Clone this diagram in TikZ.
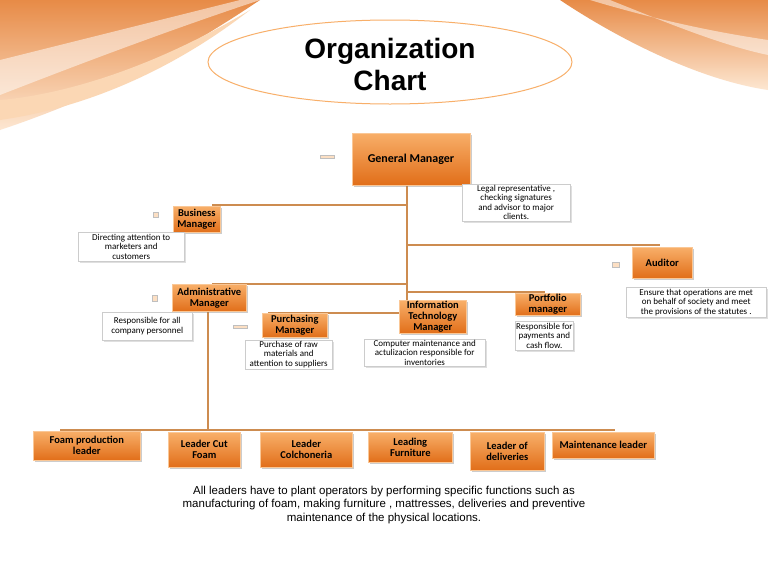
\documentclass[tikz,border=0pt]{standalone}
\usepackage{fontspec}
\setmainfont{Carlito}
\newfontfamily\arial{Liberation Sans}
\usetikzlibrary{shadows}
\definecolor{org}{RGB}{225,110,25}
\definecolor{orgl}{RGB}{248,175,105}
\definecolor{lnc}{RGB}{205,140,80}
\tikzset{
 ob/.style={draw=orgl!70!white,line width=0.6pt,top color=orgl,bottom color=org,drop shadow={opacity=0.4,shadow xshift=1.5pt,shadow yshift=-1.5pt},font=\bfseries\fontsize{10.5}{11}\selectfont,align=center,inner sep=1pt},
 db/.style={draw=gray!40,fill=white,drop shadow={opacity=0.25,shadow xshift=1.5pt,shadow yshift=-1.5pt},font=\fontsize{9}{9.5}\selectfont,align=center,inner sep=1pt},
 ln/.style={draw=lnc,line width=1.6pt},
 dsh/.style={draw=gray!50,fill=orgl!40,line width=0.5pt},
}
\begin{document}
\begin{tikzpicture}[x=1pt,y=-1pt]
\useasboundingbox (0,0) rectangle (768,576);
\fill[white] (0,0) rectangle (768,576);
% background swooshes
\shade[top color=org!80,bottom color=orgl!30] (0,0) -- (260,0) .. controls (200,40) and (120,90) .. (0,130) -- cycle;
\fill[white,opacity=0.5] (0,60) .. controls (80,40) and (160,20) .. (240,0) -- (260,0) .. controls (170,30) and (90,60) .. (0,95) -- cycle;
\fill[orgl!50] (0,100) .. controls (60,95) and (150,70) .. (250,10) .. controls (160,80) and (70,110) .. (0,120) -- cycle;
\shade[top color=org!80,bottom color=orgl!30] (768,0) -- (560,0) .. controls (620,40) and (700,80) .. (768,90) -- cycle;
\fill[white,opacity=0.5] (768,40) .. controls (700,30) and (640,15) .. (590,0) -- (610,0) .. controls (660,20) and (720,45) .. (768,55) -- cycle;
% title
\draw[orgl,line width=1pt,fill=white] (390,62) ellipse [x radius=182,y radius=42];
\node[font=\arial\bfseries\fontsize{28}{32}\selectfont,align=center] (title) at (390,64) {Organization\\Chart};
% connectors (behind boxes)
\coordinate (tt) at (407,185);
\coordinate (tb) at (407,300);
\coordinate (a1) at (212,205); \coordinate (a2) at (407,205);
\coordinate (c1) at (407,245); \coordinate (c2) at (660,245);
\coordinate (e1) at (212,284); \coordinate (e2) at (407,284);
\coordinate (f1) at (407,292); \coordinate (f2) at (545,292);
\coordinate (g1) at (268,313); \coordinate (g2) at (407,313);
\coordinate (h1) at (208,311); \coordinate (h2) at (208,430);
\coordinate (k1) at (60,430); \coordinate (k2) at (615,430);
\draw[ln] (tt) -- (tb);
\draw[ln] (a1) -- (a2);
\draw[ln] (c1) -- (c2);
\draw[ln] (e1) -- (e2);
\draw[ln] (f1) -- (f2);
\draw[ln] (g1) -- (g2);
\draw[ln] (h1) -- (h2);
\draw[ln] (k1) -- (k2);
% nodes
\node[ob,minimum width=118,minimum height=52,font=\bfseries\fontsize{12}{13}\selectfont] (gm) at (411,159) {General Manager};
\node[db,minimum width=108,minimum height=34,anchor=north west] (gmd) at (462,184) {Legal representative ,\\checking signatures\\and advisor to major\\clients.};
\node[ob,minimum width=47,minimum height=26,anchor=north west] (bm) at (173,206) {Business\\Manager};
\node[db,minimum width=106,minimum height=29,anchor=north west] (bmd) at (78,232) {Directing attention to\\marketers and\\customers};
\node[ob,minimum width=60,minimum height=31,anchor=north west] (au) at (632,247) {Auditor};
\node[db,minimum width=140,minimum height=30,anchor=north west] (aud) at (626,287) {Ensure that operations are met\\on behalf of society and meet\\the provisions of the statutes .};
\node[ob,minimum width=74,minimum height=27,anchor=north west] (am) at (172,284) {Administrative\\Manager};
\node[db,minimum width=90,minimum height=28,anchor=north west] (amd) at (102,312) {Responsible for all\\company personnel};
\node[ob,minimum width=65,minimum height=24,anchor=north west] (pm) at (262,313) {Purchasing\\Manager};
\node[db,minimum width=87,minimum height=26,anchor=north west] (pmd) at (245,340) {Purchase of raw\\materials and\\attention to suppliers};
\node[ob,minimum width=67,minimum height=33,anchor=north west] (it) at (399,300) {Information\\Technology\\Manager};
\node[db,minimum width=121,minimum height=27,anchor=north west] (itd) at (364,339) {Computer maintenance and\\actulizacion responsible for\\inventories};
\node[ob,minimum width=65,minimum height=21,anchor=north west] (po) at (515,293) {Portfolio\\manager};
\node[db,minimum width=57,minimum height=29,anchor=north west] (pod) at (515,321) {Responsible for\\payments and\\cash flow.};
% small dashes
\node[dsh,minimum width=14,minimum height=3,inner sep=0] (d1) at (327,157) {};
\node[dsh,minimum width=5,minimum height=5,inner sep=0] (d2) at (156,215) {};
\node[dsh,minimum width=7,minimum height=5,inner sep=0] (d3) at (616,265) {};
\node[dsh,minimum width=5,minimum height=6,inner sep=0] (d4) at (155,298) {};
\node[dsh,minimum width=14,minimum height=3,inner sep=0] (d5) at (240,327) {};
% bottom leaders
\node[ob,minimum width=107,minimum height=29,anchor=north west] (b1) at (33,431) {Foam production\\leader};
\node[ob,minimum width=72,minimum height=35,anchor=north west] (b2) at (168,432) {Leader Cut\\Foam};
\node[ob,minimum width=92,minimum height=35,anchor=north west] (b3) at (260,432) {Leader\\Colchoneria};
\node[ob,minimum width=84,minimum height=30,anchor=north west] (b4) at (368,432) {Leading\\Furniture};
\node[ob,minimum width=74,minimum height=38,anchor=north west] (b5) at (470,432) {Leader of\\deliveries};
\node[ob,minimum width=102,minimum height=26,anchor=north west] (b6) at (552,432) {Maintenance leader};
% caption
\node[font=\arial\fontsize{11.5}{13.5}\selectfont,align=center] (cap) at (384,505) {All leaders have to plant operators by performing specific functions such as\\manufacturing of foam, making furniture , mattresses, deliveries and preventive\\maintenance of the physical locations.};
\end{tikzpicture}
\end{document}
